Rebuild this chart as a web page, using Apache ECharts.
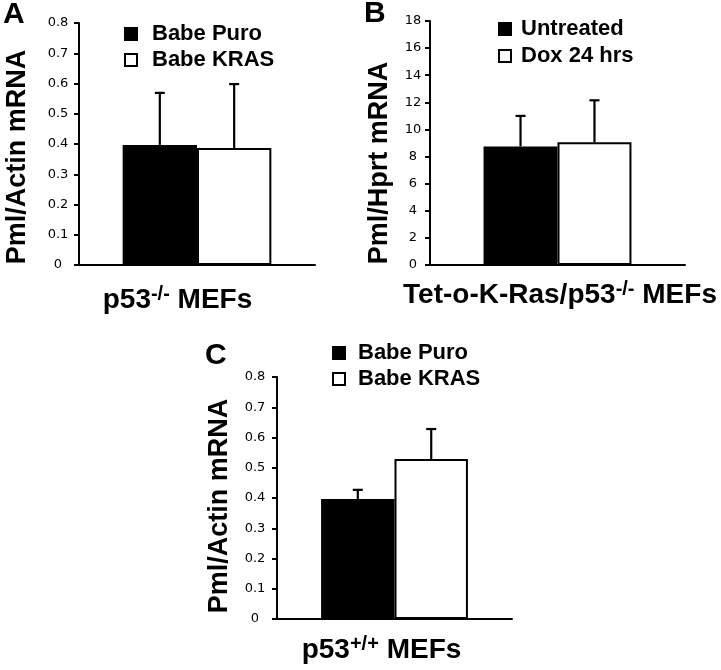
<!DOCTYPE html>
<html>
<head>
<meta charset="utf-8">
<script src="https://cdn.jsdelivr.net/npm/echarts@6/dist/echarts.min.js"></script>
<style>html,body{margin:0;padding:0;background:#fff}#c{width:721px;height:670px}</style>
</head>
<body>
<div id="c"></div>
<script>
// ---- Data ----
const seriesA = ['Babe Puro', 'Babe KRAS'];
const meanA = [0.397, 0.387];
const errA = [0.172, 0.211];

const seriesB = ['Untreated', 'Dox 24 hrs'];
const meanB = [8.75, 9.05];
const errB = [2.25, 3.1];

const seriesC = ['Babe Puro', 'Babe KRAS'];
const meanC = [0.397, 0.529];
const errC = [0.03, 0.099];

const category = ['MEFs'];
const fills = ['#000000', '#ffffff'];

// ---- Helpers ----
const BOLD = '"Liberation Sans", Arial, Helvetica, sans-serif';
const TICK = '"DejaVu Sans", Verdana, sans-serif';

function errRender(gapRatio) {
  return function (params, api) {
    const cat = api.value(0), mean = api.value(1), err = api.value(2), idx = api.value(3);
    const band = api.size([1, 0])[0];
    const barW = band * (1 - gapRatio) / 2;
    const center = api.coord([cat, 0])[0];
    const x = center + (idx - 0.5) * barW;
    const base = api.coord([cat, mean])[1];
    const top = api.coord([cat, mean + err])[1];
    const st = { stroke: '#000', lineWidth: 2.2 };
    return {
      type: 'group',
      children: [
        { type: 'line', shape: { x1: x, y1: base, x2: x, y2: top }, style: st },
        { type: 'line', shape: { x1: x - 5, y1: top, x2: x + 5, y2: top }, style: st }
      ]
    };
  };
}

function xAxisFor(grid, main, sup, rest, gap, padL, padR) {
  return {
    gridIndex: grid, type: 'category', data: category,
    axisLine: { lineStyle: { color: '#000', width: 2 } },
    axisTick: { show: false }, axisLabel: { show: false },
    name: '{m|' + main + '}{s|' + sup + '}{m|' + rest + '}',
    nameLocation: 'middle', nameGap: gap,
    nameTextStyle: {
      padding: [0, padR, 0, padL],
      rich: {
        m: { fontFamily: BOLD, fontWeight: 'bold', fontSize: 28, color: '#000', lineHeight: 32 },
        s: { fontFamily: BOLD, fontWeight: 'bold', fontSize: 20, color: '#000', lineHeight: 19, verticalAlign: 'top' }
      }
    }
  };
}

function yAxisFor(grid, max, interval, name, gap, shift, labelMargin) {
  return {
    gridIndex: grid, type: 'value', min: 0, max: max, interval: interval,
    splitLine: { show: false },
    axisLine: { show: true, lineStyle: { color: '#000', width: 2 } },
    axisTick: { show: true, length: 5, lineStyle: { color: '#000', width: 2 } },
    axisLabel: { color: '#000', fontFamily: TICK, fontSize: 13, align: 'center', margin: labelMargin },
    name: name, nameLocation: 'middle', nameRotate: 90, nameGap: gap,
    nameTextStyle: { fontFamily: BOLD, fontWeight: 'bold', fontSize: 27, color: '#000', padding: [0, shift * 2, 0, 0] }
  };
}

function barSeries(names, means, grid) {
  return names.map((n, i) => ({
    name: n, type: 'bar', xAxisIndex: grid, yAxisIndex: grid,
    barGap: '0%', barCategoryGap: ['37%', '42%', '37.5%'][grid],
    data: [means[i]],
    itemStyle: { color: fills[i], borderColor: '#000', borderWidth: 2 },
    emphasis: { disabled: true }, animation: false
  }));
}

function errSeries(means, errs, grid, gapRatio) {
  return {
    type: 'custom', xAxisIndex: grid, yAxisIndex: grid, z: 5,
    renderItem: errRender(gapRatio),
    data: means.map((m, i) => [0, m, errs[i], i]),
    animation: false, silent: true
  };
}

function legendFor(names, left, top, gap, textPad) {
  return {
    orient: 'vertical', left: left, top: top, padding: 0, itemGap: gap,
    itemWidth: 12, itemHeight: 12, icon: 'rect', selectedMode: false,
    data: names.map((n, i) => ({ name: n, itemStyle: { color: fills[i], borderColor: '#000', borderWidth: 2 } })),
    textStyle: { fontFamily: BOLD, fontWeight: 'bold', fontSize: 22, color: '#000', padding: [0, 0, 0, textPad] }
  };
}

function letter(t, left, top) {
  return { text: t, left: left, top: top, padding: 0,
    textStyle: { fontFamily: BOLD, fontWeight: 'bold', fontSize: 30, color: '#000' } };
}

const chart = echarts.init(document.getElementById('c'), null, { renderer: 'canvas' });
chart.setOption({
  backgroundColor: '#fff',
  animation: false,
  title: [letter('A', 3, 0), letter('B', 364, -1), letter('C', 205, 341)],
  legend: [
    legendFor(seriesA, 124, 23, 4, 10),
    legendFor(seriesB, 498, 18, 5, 5),
    legendFor(seriesC, 332, 342, 4, 8)
  ],
  grid: [
    { left: 79, right: 406, top: 23, bottom: 405 },
    { left: 430, right: 36, top: 21, bottom: 405 },
    { left: 277, right: 209, top: 377, bottom: 51 }
  ],
  xAxis: [
    xAxisFor(0, 'p53', '-/-', ' MEFs', 19, 0, 39),
    xAxisFor(1, 'Tet-o-K-Ras/p53', '-/-', ' MEFs', 14, 5, 0),
    xAxisFor(2, 'p53', '+/+', ' MEFs', 15, 0, 26)
  ],
  yAxis: [
    yAxisFor(0, 0.8, 0.1, 'Pml/Actin mRNA', 48, 13, 21),
    yAxisFor(1, 18, 2, 'Pml/Hprt mRNA', 37, 20, 17),
    yAxisFor(2, 0.8, 0.1, 'Pml/Actin mRNA', 44, 8, 22)
  ],
  series: [].concat(
    barSeries(seriesA, meanA, 0), [errSeries(meanA, errA, 0, 0.37)],
    barSeries(seriesB, meanB, 1), [errSeries(meanB, errB, 1, 0.42)],
    barSeries(seriesC, meanC, 2), [errSeries(meanC, errC, 2, 0.375)]
  )
});
</script>
</body>
</html>
